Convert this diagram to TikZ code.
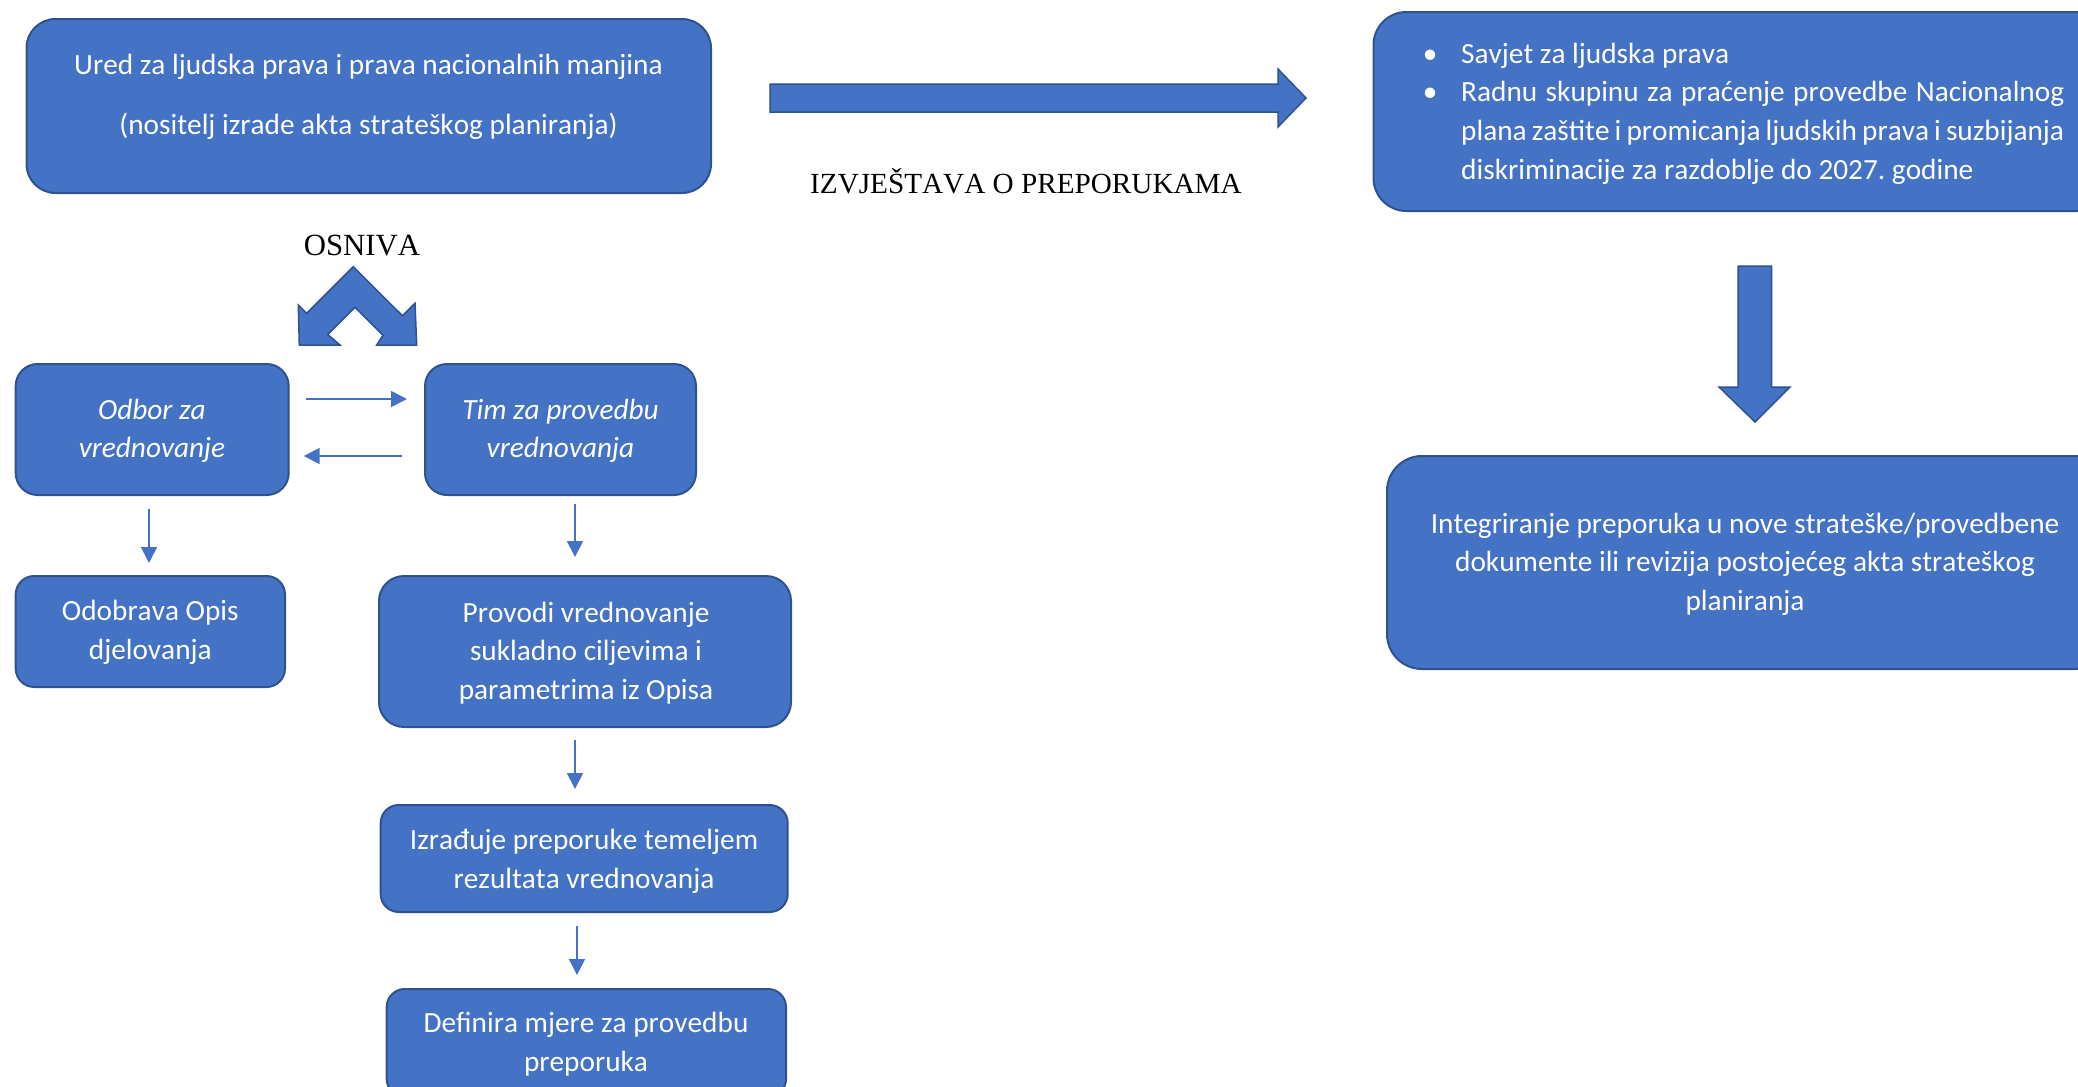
\documentclass[tikz,border=0pt]{standalone}
\usepackage{fontspec}
\setmainfont{Carlito}[Kerning=Off]
\newfontfamily\seriffont{Liberation Serif}[Kerning=Off]
\usetikzlibrary{arrows.meta,calc}
\definecolor{boxblue}{HTML}{4472C4}
\definecolor{boxedge}{HTML}{2F528F}
\frenchspacing
\begin{document}
\begin{tikzpicture}[x=1pt,y=-1pt,
  box/.style={draw=boxedge,fill=boxblue,line width=2pt,inner sep=0pt,rectangle},
  txt/.style={text=white,font=\fontsize{29.3}{38.5}\selectfont,align=center,inner sep=0pt},
  itxt/.style={text=white,font=\fontsize{29.3}{38.5}\selectfont\itshape,align=center,inner sep=0pt},
  lbl/.style={font=\seriffont\fontsize{30.8}{34}\selectfont,inner sep=0pt,anchor=base},
  flow/.style={draw=boxblue,line width=1.6pt,-{Triangle[width=16pt,length=16pt]}},
  blockarrow/.style={fill=boxblue,draw=boxedge,line width=1.5pt,line join=miter}
]
\useasboundingbox (0,0) rectangle (2078,1087);
\clip (0,0) rectangle (2078,1087);

% boxes
\node[box,rounded corners=29pt,minimum width=684.5pt,minimum height=174pt] (A) at (368.75,106) {};
\node[box,rounded corners=33pt,minimum width=736.5pt,minimum height=199pt] (B) at (1741.75,111.5) {};
\node[box,rounded corners=35pt,minimum width=723pt,minimum height=213pt] (C) at (1748.5,562.5) {};
\node[box,rounded corners=22pt,minimum width=273pt,minimum height=131pt] (D) at (152.2,429.5) {};
\node[box,rounded corners=22pt,minimum width=271pt,minimum height=131pt] (E) at (560.5,429.5) {};
\node[box,rounded corners=18.5pt,minimum width=269.3pt,minimum height=111pt] (F) at (150.35,631.5) {};
\node[box,rounded corners=25pt,minimum width=412pt,minimum height=151pt] (G) at (585,651.5) {};
\node[box,rounded corners=18pt,minimum width=407pt,minimum height=107pt] (H) at (584.2,858.5) {};
\node[box,rounded corners=18pt,minimum width=399.3pt,minimum height=108pt] (I) at (586.35,1043) {};

% texts
\node[txt,font=\fontsize{29.3}{60}\selectfont] (Atext) at (368.5,97) {Ured za ljudska prava i prava nacionalnih manjina\\(nositelj izrade akta strateškog planiranja)};
\node[anchor=base west,inner sep=0pt,text=white,font=\fontsize{29.3}{38.7}\selectfont] (Btext) at (1423,63)
 {\parbox[t]{700pt}{\makebox[38pt][l]{\makebox[14pt]{•}}Savjet za ljudska prava\\
 \makebox[38pt][l]{\makebox[14pt]{•}}\makebox[603pt][s]{Radnu skupinu za praćenje provedbe Nacionalnog}\\
 \hspace*{38pt}\makebox[603pt][s]{plana zaštite i promicanja ljudskih prava i suzbijanja}\\
 \hspace*{38pt}diskriminacije za razdoblje do 2027. godine}};
\node[txt] (Ctext) at (1745,564) {Integriranje preporuka u nove strateške/provedbene\\dokumente ili revizija postojećeg akta strateškog\\planiranja};
\node[itxt] (Dtext) at (152,431) {Odbor za\\vrednovanje};
\node[itxt] (Etext) at (560.5,431) {Tim za provedbu\\vrednovanja};
\node[txt] (Ftext) at (150.3,632.5) {Odobrava Opis\\djelovanja};
\node[txt] (Gtext) at (586,653) {Provodi vrednovanje\\sukladno ciljevima i\\parametrima iz Opisa};
\node[txt] (Htext) at (584,861.5) {Izrađuje preporuke temeljem\\rezultata vrednovanja};
\node[txt] (Itext) at (586,1044) {Definira mjere za provedbu\\preporuka};

% labels
\node[lbl] (osniva) at (362,255) {OSNIVA};
\node[lbl,font=\seriffont\fontsize{29.2}{34}\selectfont] (izv) at (1026,193) {IZVJEŠTAVA O PREPORUKAMA};

% big right arrow
\draw[blockarrow] (770,84) -- (1278,84) -- (1278,69) -- (1306,98) -- (1278,127) -- (1278,112) -- (770,112) -- cycle;
% big down arrow
\draw[blockarrow] (1738,266) -- (1771.5,266) -- (1771.5,387) -- (1790,387) -- (1755,422) -- (1719,387) -- (1738,387) -- cycle;
% chevron double arrow
\draw[blockarrow] (353.3,266.7) -- (402.5,315.8) -- (415,303.3) -- (416.7,345) -- (376.7,345) -- (383,335.3)
  -- (355,307.3) -- (327.8,334.5) -- (340,345) -- (299.3,345) -- (298.3,305) -- (306.7,313.3) -- cycle;

% small connectors
\draw[flow] ($(D.east)+(16,-30.5)$) -- ($(E.west)+(-17,-30.5)$);
\draw[flow] ($(E.west)+(-22,26.5)$) -- ($(D.east)+(14,26.5)$);
\draw[flow] ($(D.south)+(-3.2,13)$) -- ($(F.north)+(-1.35,-12)$);
\draw[flow] ($(E.south)+(14.5,8)$) -- ($(G.north)+(-10,-18)$);
\draw[flow] ($(G.south)+(-10,12)$) -- ($(H.north)+(-9.2,-15)$);
\draw[flow] ($(H.south)+(-7.2,13)$) -- ($(I.north)+(-9.35,-13)$);
\end{tikzpicture}
\end{document}
